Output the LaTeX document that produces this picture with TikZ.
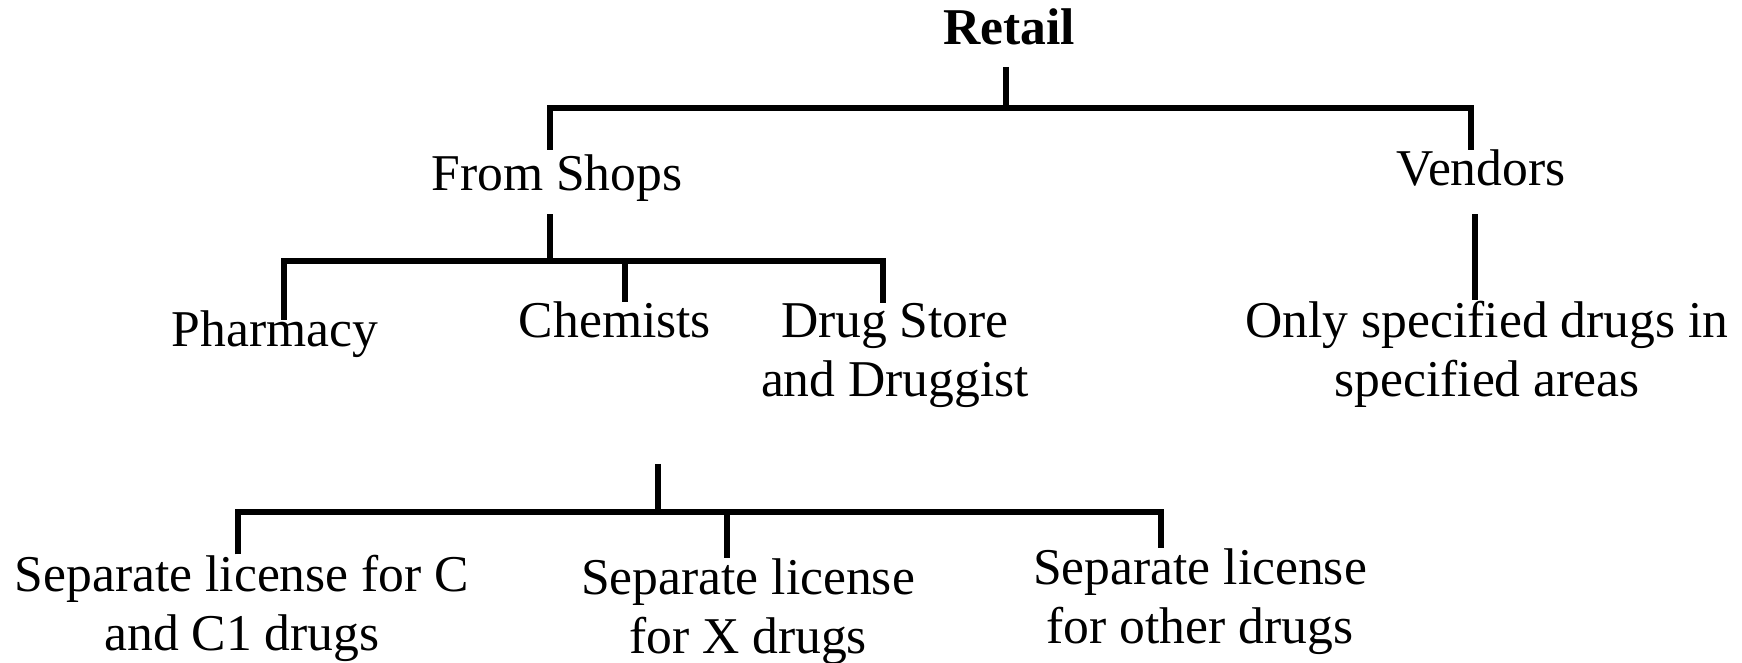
\documentclass[tikz,border=0pt]{standalone}
\usepackage{fontspec}
\setmainfont{Liberation Serif}
\usepackage{tikz}
\usetikzlibrary{positioning}
\tikzset{
  item/.style={font=\fontsize{25.8}{29.5}\selectfont, inner sep=0pt, anchor=base, align=center},
  root/.style={item, font=\fontsize{25.8}{29.5}\selectfont\bfseries},
  link/.style={line width=2.7pt, black}
}

\begin{document}
\begin{tikzpicture}[x=0.5pt, y=-0.5pt]
\useasboundingbox (0,0) rectangle (1742,663);
\node[root] (retail) at (1009,45) {Retail};
\node[item] (shops) at (557,191) {From Shops};
\node[item] (vendors) at (1481,186) {Vendors};
\node[item] (pharmacy) at (275,347) {Pharmacy};
\node[item] (chemists) at (615,338) {Chemists};
\node[item] (drugstore) at (895,397) {Drug Store\\and Druggist};
\node[item] (specified) at (1487,397) {Only specified drugs in\\specified areas};
\node[item] (licc) at (242,650) {Separate license for C\\and C1 drugs};
\node[item] (licx) at (748,653) {Separate license\\for X drugs};
\node[item] (licother) at (1200,643) {Separate license\\for other drugs};
\coordinate (retail-j) at (1006,108);
\coordinate (shops-j) at (550,108);
\coordinate (vendors-j) at (1471,108);
\coordinate (shops-k) at (550,261);
\coordinate (pharmacy-j) at (284,261);
\coordinate (chemists-j) at (625,261);
\coordinate (drugstore-j) at (883,261);
\coordinate (vendors-k) at (1475,300);
\coordinate (lic-top) at (658,464);
\coordinate (lic-j) at (658,512);
\coordinate (licc-j) at (238,512);
\coordinate (licx-j) at (727,512);
\coordinate (licother-j) at (1161,512);
\draw[link, shorten <=10.5pt] (retail.south -| retail-j) -- (retail-j);
\draw[link, shorten <=2.5pt] (shops.north -| shops-j) -- (shops-j) -- (vendors-j) -- (vendors.north -| vendors-j);
\draw[link, shorten <=6pt] (shops.south -| shops-k) -- (shops-k);
\draw[link, shorten <=-4.5pt] (pharmacy.north -| pharmacy-j) -- (pharmacy-j) -- (drugstore-j) -- (drugstore.north -| drugstore-j);
\draw[link] (chemists-j) -- (chemists.north -| chemists-j);
\draw[link, shorten <=13.5pt] (vendors.south -| vendors-k) -- (vendors-k);
\draw[link] (lic-top) -- (lic-j);
\draw[link] (licc.north -| licc-j) -- (licc-j) -- (licother-j) -- (licother.north -| licother-j);
\draw[link] (licx-j) -- (licx.north -| licx-j);
\end{tikzpicture}
\end{document}
